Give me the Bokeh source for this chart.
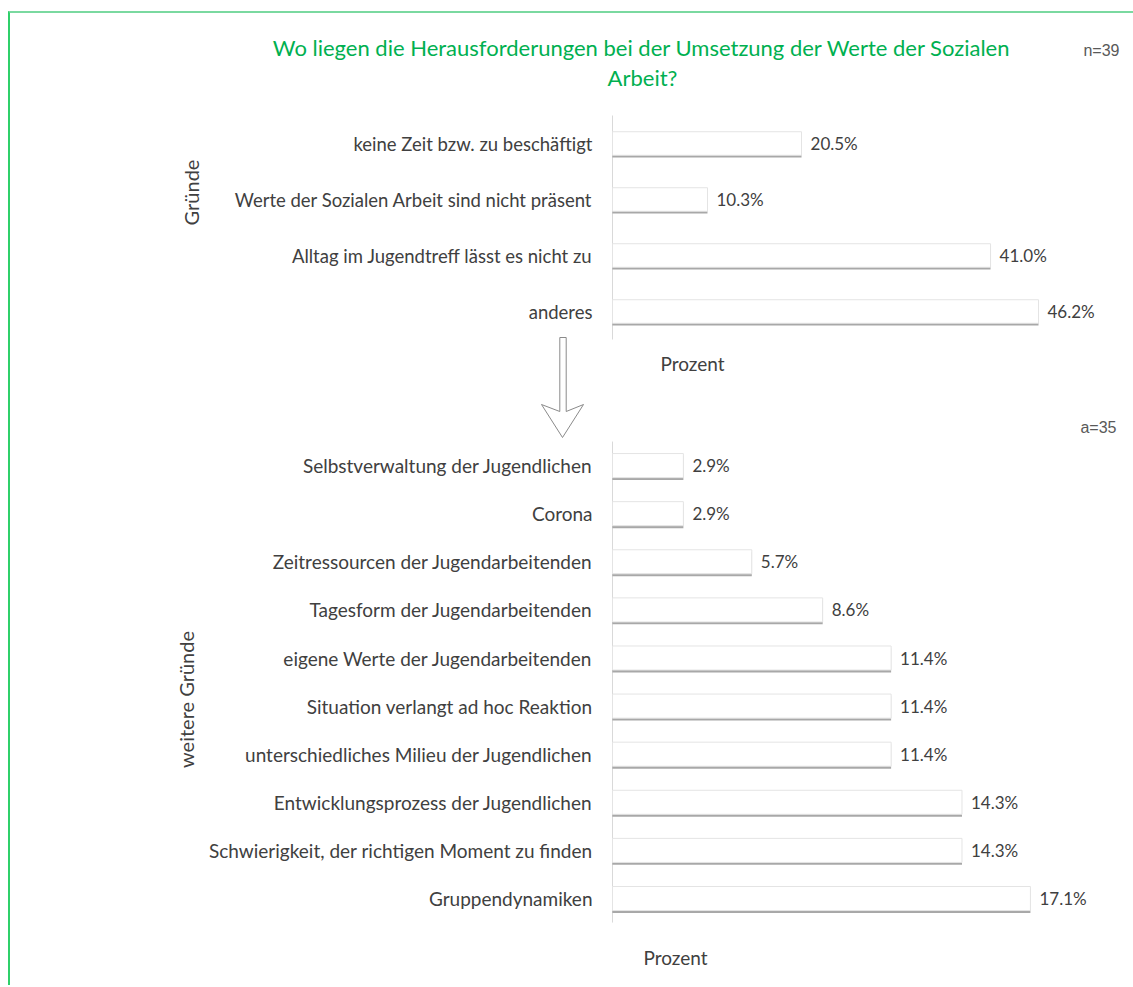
import math
from bokeh.plotting import figure
from bokeh.models import ColumnDataSource, Range1d
from bokeh.layouts import column
from bokeh.embed import file_html
from bokeh.resources import INLINE
from bokeh.core.properties import value

# ---------------- data ----------------
title_line1 = "Wo liegen die Herausforderungen bei der Umsetzung der Werte der Sozialen"
title_line2 = "Arbeit?"

top_group_label = "Gründe"
top_categories = [
    "keine Zeit bzw. zu beschäftigt",
    "Werte der Sozialen Arbeit sind nicht präsent",
    "Alltag im Jugendtreff lässt es nicht zu",
    "anderes",
]
top_values = [20.5, 10.3, 41.0, 46.2]
top_count_label = "n=39"

bottom_group_label = "weitere Gründe"
bottom_categories = [
    "Selbstverwaltung der Jugendlichen",
    "Corona",
    "Zeitressourcen der Jugendarbeitenden",
    "Tagesform der Jugendarbeitenden",
    "eigene Werte der Jugendarbeitenden",
    "Situation verlangt ad hoc Reaktion",
    "unterschiedliches Milieu der Jugendlichen",
    "Entwicklungsprozess der Jugendlichen",
    "Schwierigkeit, der richtigen Moment zu finden",
    "Gruppendynamiken",
]
bottom_values = [2.9, 2.9, 5.7, 8.6, 11.4, 11.4, 11.4, 14.3, 14.3, 17.1]
bottom_count_label = "a=35"

axis_title = "Prozent"

# ---------------- styling ----------------
FONT = "Lato"
TEXT_COLOR = "#404040"
GREEN = "#00b050"
PAGE_LEFT, PAGE_RIGHT = 10, 1133   # page x span of the figures
ZERO_X = 612                       # page x of the value 0


class Mapper:
    """page pixel -> data space of a figure (used for placement of decorations)"""
    def __init__(self, px_per_unit, last_center, px_per_cat):
        self.k, self.c, self.f = px_per_unit, last_center, px_per_cat

    def x(self, px):
        return (px - ZERO_X) / self.k

    def y(self, py):
        return (self.c - py) / self.f


def make_fig(cats, vals, page_top, page_bottom, m, bar_h, shadow, cat_size):
    n = len(cats)
    pos = [n - 1 - i for i in range(n)]          # first category on top
    p = figure(width=PAGE_RIGHT - PAGE_LEFT, height=page_bottom - page_top,
               x_range=Range1d(m.x(PAGE_LEFT), m.x(PAGE_RIGHT)),
               y_range=Range1d(m.y(page_bottom), m.y(page_top)),
               output_backend="svg", toolbar_location=None,
               min_border=0, min_border_left=0, min_border_right=0,
               min_border_top=0, min_border_bottom=0)
    p.axis.visible = False
    p.grid.visible = False
    p.outline_line_color = None
    p.background_fill_color = "white"
    p.border_fill_color = "white"

    src = ColumnDataSource(dict(cat=cats, pos=pos, val=vals, zero=[0] * n,
                                shadow_pos=[v - shadow for v in pos],
                                lab=[f"{v:.1f}%" for v in vals]))
    # axis line
    p.segment(x0=0, y0=-0.5, x1=0, y1=n - 0.5, line_color="#d9d9d9", line_width=1)
    # bar shadow + bar
    p.hbar(y="shadow_pos", left="zero", right="val", height=bar_h, source=src,
           fill_color="#7a7a7a", fill_alpha=0.65, line_color=None)
    p.hbar(y="pos", left="zero", right="val", height=bar_h, source=src,
           fill_color="white", line_color="#e4e4e4", line_width=1)
    # value labels
    p.text(x="val", y="pos", text="lab", source=src, x_offset=9,
           text_baseline="middle", text_align="left",
           text_font=value(FONT), text_font_size="17px", text_color=TEXT_COLOR)
    # category labels
    p.text(x="zero", y="pos", text="cat", source=src, x_offset=-20,
           text_baseline="middle", text_align="right",
           text_font=value(FONT), text_font_size=cat_size, text_color=TEXT_COLOR)
    return p


def txt(p, m, px, py, text, size, color=TEXT_COLOR, font=FONT, align="center", angle=0.0):
    p.text(x=[m.x(px)], y=[m.y(py)], text=[text], angle=angle,
           text_font=value(font), text_font_size=size, text_color=color,
           text_align=align, text_baseline="middle")


# ---------------- top chart ----------------
mt = Mapper(9.221, 311, 56)
top = make_fig(top_categories, top_values, 13, 440, mt, 0.42, 0.04, "18.5px")
txt(top, mt, 641.5, 47, title_line1, "22px", color=GREEN)
txt(top, mt, 642, 77, title_line2, "22px", color=GREEN)
txt(top, mt, 1119, 50, top_count_label, "16px", color="#595959", font="Liberation Sans", align="right")
txt(top, mt, 190, 192, top_group_label, "20px", angle=math.pi / 2)
txt(top, mt, 692, 363, axis_title, "19px")
txt(top, mt, 1116, 427, bottom_count_label, "16px", color="#595959", font="Liberation Sans", align="right")

# hollow down arrow pointing to the second chart
arrow_x = [559.3, 565.7, 565.7, 583.0, 562.0, 541.0, 559.3]
arrow_y = [337.0, 337.0, 411.0, 404.0, 437.0, 404.0, 411.0]
top.patch(x=[mt.x(v) for v in arrow_x], y=[mt.y(v) for v in arrow_y],
          fill_color="white", line_color="#8a8a8a", line_width=1)

# ---------------- bottom chart ----------------
mb = Mapper(24.44, 898, 48.1)
bottom = make_fig(bottom_categories, bottom_values, 440, 985, mb, 0.5, 0.05, "19px")
txt(bottom, mb, 185, 699, bottom_group_label, "20px", angle=math.pi / 2)
txt(bottom, mb, 675, 957, axis_title, "19px")

layout = column(top, bottom, spacing=0,
                styles={"margin-left": "8px", "margin-top": "11px",
                        "border-left": "2px solid #2fd06a",
                        "border-top": "2px solid #7ad9a0"})

open("out.html", "w").write(file_html(layout, INLINE))
